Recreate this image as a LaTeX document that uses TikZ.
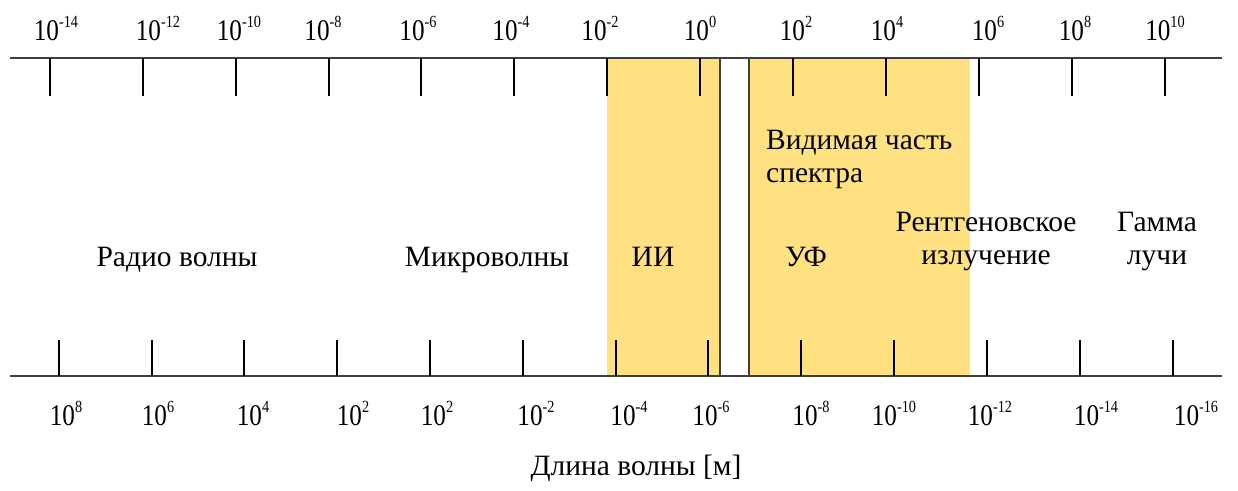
\documentclass[tikz,border=0pt]{standalone}
\usepackage{fontspec}
\setmainfont{Liberation Serif}
\definecolor{bandyellow}{HTML}{FFE182}
\definecolor{axisgrey}{HTML}{404040}
\newcommand\pw[1]{\scalebox{0.84}[1]{10\raisebox{0.42em}{\fontsize{17}{17}\selectfont#1}}}
\begin{document}
\begin{tikzpicture}[x=1pt,y=-1pt,
  axis/.style={line width=1.5pt,draw=axisgrey},
  tickmark/.style={line width=1.8pt,draw=black},
  edge/.style={line width=1.2pt,draw=axisgrey},
  num/.style={font=\fontsize{30}{30}\selectfont,inner sep=0pt,anchor=base},
  lbl/.style={font=\fontsize{29.5}{33}\selectfont,inner sep=0pt,align=center}]
\useasboundingbox (0,0) rectangle (1238,490);
% bands
\fill[bandyellow] (607,58) rectangle (720,376);
\fill[bandyellow] (749,58) rectangle (970,376);
\draw[edge] (720,58) -- (720,376);
\draw[edge] (749,58) -- (749,376);
% axes
\draw[axis] (10,58) -- (1222,58);
\draw[axis] (10,376) -- (1222,376);
% ticks
\foreach \x in {50,143,236,329,421,514,607,700,793,886,979,1072,1165}
  \draw[tickmark] (\x,58) -- (\x,96);
\foreach \x in {59,152,244,337,430,523,616,708,801,894,987,1080,1173}
  \draw[tickmark] (\x,340) -- (\x,376);
% top labels
\foreach \x/\e [count=\k] in {56/-14,158/-12,239/-10,323/-8,418/-6,511/-4,600/-2,700/0,796/2,887/4,988/6,1075/8,1165/10}
  \node[num] (t\k) at (\x,40.5) {\pw{\e}};
% bottom labels
\foreach \x/\e [count=\k] in {66/8,158/6,253/4,353/2,437/2,536/-2,629/-4,711/-6,811/-8,894/-10,990/-12,1096/-14,1196/-16}
  \node[num] (b\k) at (\x,425) {\pw{\e}};
% region labels
\node[lbl,anchor=base] (radio) at (177,266) {Радио волны};
\node[lbl,anchor=base] (micro) at (487,266) {Микроволны};
\node[lbl,anchor=base] (ir) at (653,266) {ИИ};
\node[lbl,anchor=base] (uv) at (806,266) {УФ};
\node[lbl,align=left,anchor=west] (vis) at (766,159) {Видимая часть\\спектра};
\node[lbl] (xray) at (986,242) {Рентгеновское\\излучение};
\node[lbl] (gamma) at (1157,242) {Гамма\\лучи};
\node[lbl,anchor=base] (wl) at (636,475) {Длина волны [м]};
\end{tikzpicture}
\end{document}
